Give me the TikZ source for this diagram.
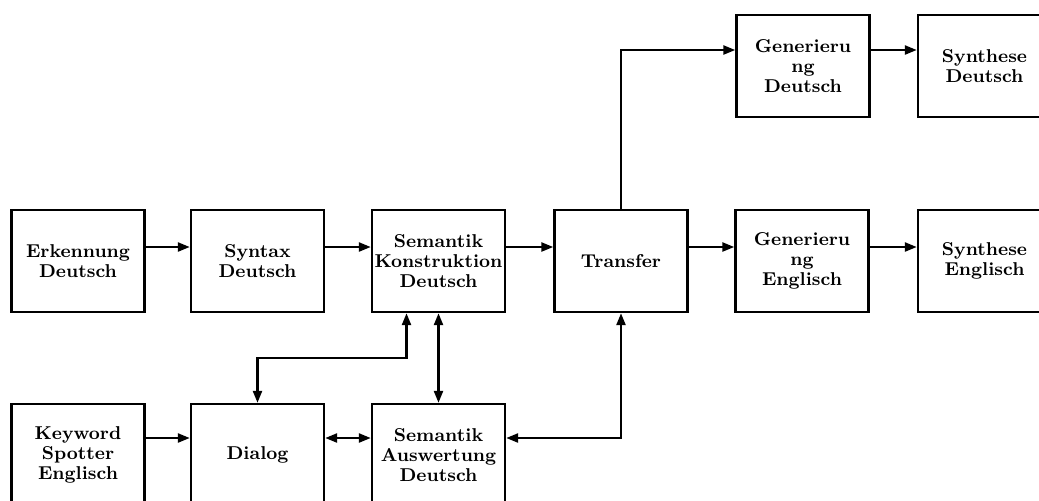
\documentclass[tikz,border=0pt]{standalone}
\usetikzlibrary{arrows.meta, positioning, calc}

\begin{document}
\begin{tikzpicture}[
  x=0.5pt,
  y=0.5pt,
  >={Triangle[length=6pt,width=4.5pt]},
  font=\bfseries\fontsize{9.3}{10}\selectfont,
  module/.style={draw, line width=1.2pt, align=center, inner sep=1pt,
    minimum width=66.5pt, minimum height=51pt},
  arrow/.style={->, line width=1.2pt},
  biarrow/.style={<->, line width=1.2pt}
]

  % The page shows only part of the figure.
  \clip (0,0) rectangle (1039,-500);

  % Output branch for German.
  \node[module] at (803,-66)    (gende) {Generieru\\ng\\Deutsch};
  \node[module] at (984.5,-66)  (synde) {Synthese\\Deutsch};

  % Main recognition chain.
  \node[module] at (78,-261)    (erk)   {Erkennung\\Deutsch};
  \node[module] at (257.5,-261) (syn)   {Syntax\\Deutsch};
  \node[module] at (438.5,-261) (semk)  {Semantik\\Konstruktion\\Deutsch};
  \node[module] at (621,-261)   (trans) {Transfer};
  \node[module] at (802,-261)   (genen) {Generieru\\ng\\Englisch};
  \node[module] at (984.5,-261) (synen) {Synthese\\Englisch};

  % Dialog and evaluation row.
  \node[module] at (78,-455)    (key)   {Keyword\\Spotter\\Englisch};
  \node[module] at (257.5,-455) (dia)   {Dialog};
  \node[module] at (438.5,-455) (sema)  {Semantik\\Auswertung\\Deutsch};

  \draw[arrow] ([yshift=7pt]erk.east)   -- ([yshift=7pt]syn.west);
  \draw[arrow] ([yshift=7pt]syn.east)   -- ([yshift=7pt]semk.west);
  \draw[arrow] ([yshift=7pt]semk.east)  -- ([yshift=7pt]trans.west);
  \draw[arrow] ([yshift=7pt]trans.east) -- ([yshift=7pt]genen.west);
  \draw[arrow] ([yshift=7pt]genen.east) -- ([yshift=7pt]synen.west);

  \draw[arrow] (trans.north) |- ([yshift=8pt]gende.west);
  \draw[arrow] ([yshift=8pt]gende.east) -- ([yshift=8pt]synde.west);

  \coordinate (dialogbend) at (330,-358);
  \draw[biarrow] (dia.north) |- (dialogbend) -| ([xshift=-16pt]semk.south);
  \draw[biarrow] (semk.south) -- (sema.north);

  \draw[arrow]   ([yshift=8.5pt]key.east) -- ([yshift=8.5pt]dia.west);
  \draw[biarrow] ([yshift=8.5pt]dia.east) -- ([yshift=8.5pt]sema.west);
  \draw[biarrow] ([yshift=8.5pt]sema.east) -| (trans.south);

\end{tikzpicture}
\end{document}
